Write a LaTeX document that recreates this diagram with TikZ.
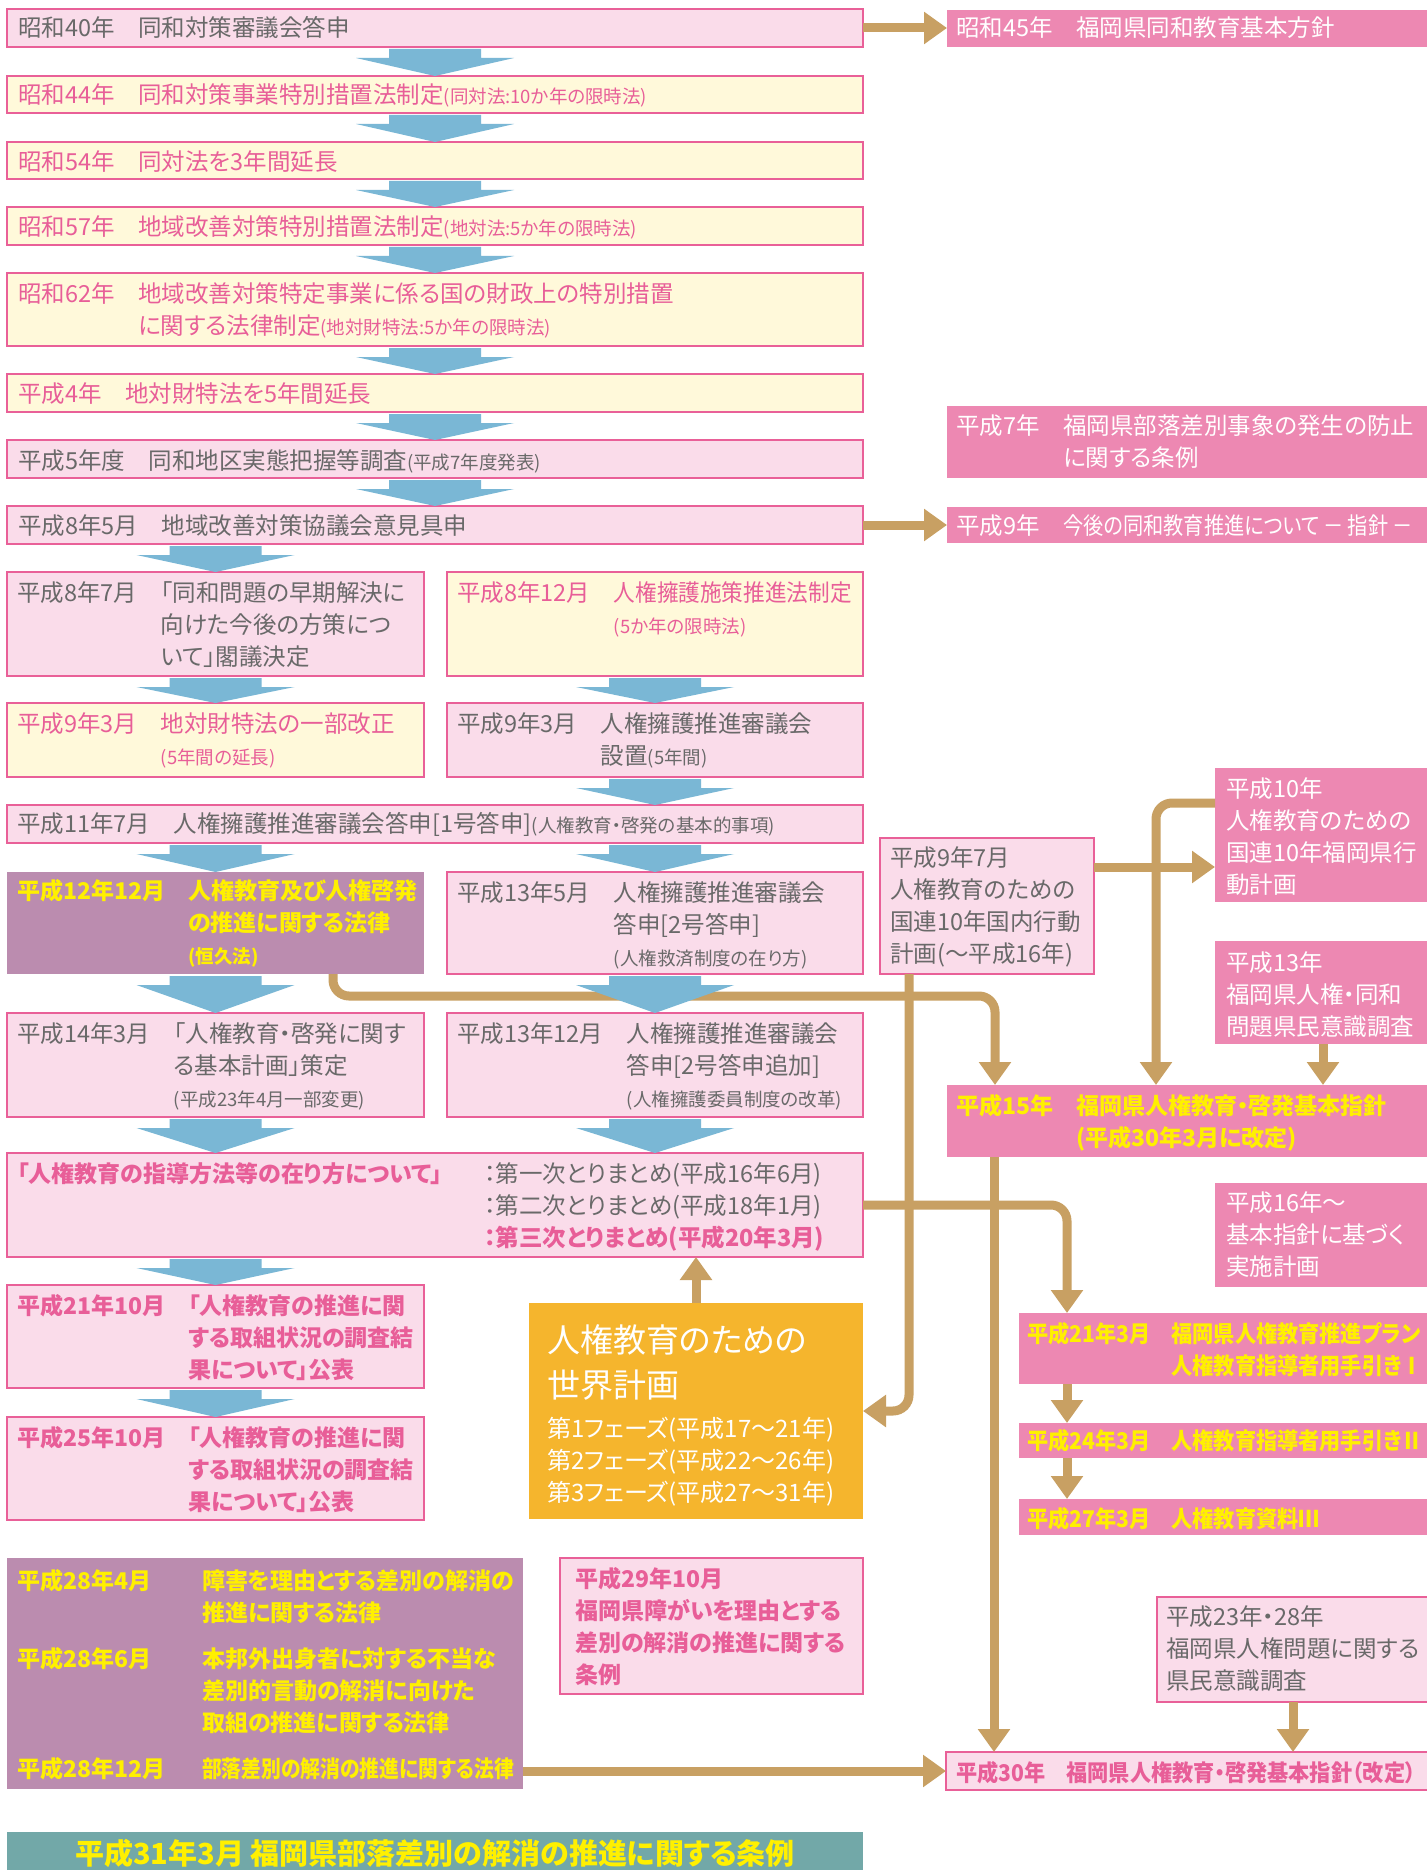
\documentclass[tikz,border=0pt]{standalone}
\usepackage{fontspec}
\setmainfont[RawFeature=+palt]{Noto Sans CJK JP}
\newfontfamily\narrowjp[FakeStretch=0.92, RawFeature=+palt]{Noto Sans CJK JP}
\newfontfamily\condjp[FakeStretch=0.86, RawFeature=+palt]{Noto Sans CJK JP}
\usetikzlibrary{arrows.meta,calc}
\definecolor{pinkbd}{RGB}{233,96,152}
\definecolor{pinklt}{RGB}{250,220,234}
\definecolor{yellowlt}{RGB}{255,249,218}
\definecolor{pinksolid}{RGB}{237,136,178}
\definecolor{purplebx}{RGB}{187,140,175}
\definecolor{goldbx}{RGB}{245,181,45}
\definecolor{tealbx}{RGB}{114,168,168}
\definecolor{bluearr}{RGB}{122,183,213}
\definecolor{tanc}{RGB}{200,160,99}
\definecolor{yellowtx}{RGB}{255,240,0}
\definecolor{graytx}{RGB}{105,105,105}
\definecolor{pinktx}{RGB}{232,94,152}
\newcommand\sm[1]{{\fontsize{18.5}{32}\selectfont #1}}
\newcommand\twocol[1]{\begin{tabular}[t]{@{}l@{　}l@{}}#1\end{tabular}}
\newcommand\onecol[1]{\begin{tabular}[t]{@{}l@{}}#1\end{tabular}}
\newcommand\blk[3]{\fill[bluearr] ($(#1.south -| #3)+(-46,2)$) -- ++(92,0) -- ++(0,9) -- ++(33,0) -- (#2.north -| #3) -- ($(#1.south -| #3)+(-79,11)$) -- ++(33,0) -- cycle;}

\begin{document}
\begin{tikzpicture}[x=1pt, y=-1pt,
 box/.style={inner sep=0pt, outer sep=0pt, anchor=north west},
 pk/.style={box, fill=pinklt, draw=pinkbd, line width=2.6pt},
 yl/.style={box, fill=yellowlt, draw=pinkbd, line width=2.6pt},
 sp/.style={box, fill=pinksolid},
 pu/.style={box, fill=purplebx},
 txt/.style={anchor=base west, inner sep=0pt, text=graytx, font=\fontsize{23.5}{32}\selectfont},
 ptxt/.style={txt, text=pinktx},
 pbtxt/.style={txt, text=pinktx, font=\fontsize{23}{32}\selectfont\bfseries},
 wtxt/.style={txt, text=white},
 ytxt/.style={txt, text=yellowtx, font=\fontsize{23}{32}\selectfont\bfseries},
 tanarr/.style={draw=tanc, line width=9pt, -{Triangle[length=23pt,width=31pt]}}]
\path[use as bounding box, fill=white] (0,0) rectangle (1426,1870);

\node[pk, minimum width=856, minimum height=38] (a1) at (7,9) {};
\node[yl, minimum width=856, minimum height=37] (a2) at (7,76) {};
\node[yl, minimum width=856, minimum height=37] (a3) at (7,142) {};
\node[yl, minimum width=856, minimum height=38] (a4) at (7,207) {};
\node[yl, minimum width=856, minimum height=73] (a5) at (7,273) {};
\node[yl, minimum width=856, minimum height=38] (a6) at (7,374) {};
\node[pk, minimum width=856, minimum height=38] (a7) at (7,440) {};
\node[pk, minimum width=856, minimum height=38] (a8) at (7,506) {};
\node[pk, minimum width=417, minimum height=104] (a9) at (7,572) {};
\node[yl, minimum width=416, minimum height=104] (b9) at (447,572) {};
\node[yl, minimum width=417, minimum height=74] (a10) at (7,703) {};
\node[pk, minimum width=416, minimum height=74] (b10) at (447,703) {};
\node[pk, minimum width=856, minimum height=38] (a11) at (7,805) {};
\node[pu, minimum width=417, minimum height=102] (a12) at (7,872) {};
\node[pk, minimum width=416, minimum height=102] (b12) at (447,872) {};
\node[pk, minimum width=417, minimum height=104] (a13) at (7,1013) {};
\node[pk, minimum width=416, minimum height=104] (b13) at (447,1013) {};
\node[pk, minimum width=856, minimum height=104] (a14) at (7,1153) {};
\node[pk, minimum width=417, minimum height=103] (a15) at (7,1285) {};
\node[pk, minimum width=417, minimum height=103] (a16) at (7,1417) {};
\node[box, fill=goldbx, minimum width=334, minimum height=216] (gold) at (529,1303) {};
\node[pu, minimum width=516, minimum height=231] (p28) at (7,1558) {};
\node[pk, minimum width=303, minimum height=136] (p29) at (560,1558) {};
\node[box, fill=tealbx, minimum width=856, minimum height=60] (teal) at (7,1832) {};
\node[pk, minimum width=214, minimum height=136] (m1) at (880,838) {};
\node[sp, minimum width=493, minimum height=37] (r1) at (947,10) {};
\node[sp, minimum width=493, minimum height=72] (r2) at (947,406) {};
\node[sp, minimum width=493, minimum height=36] (r3) at (947,507) {};
\node[sp, minimum width=225, minimum height=134] (r4) at (1215,768) {};
\node[sp, minimum width=225, minimum height=103] (r5) at (1215,941) {};
\node[sp, minimum width=493, minimum height=72] (r6) at (947,1085) {};
\node[sp, minimum width=225, minimum height=104] (r7) at (1215,1183) {};
\node[sp, minimum width=421, minimum height=71] (r8) at (1019,1313) {};
\node[sp, minimum width=421, minimum height=35] (r9) at (1019,1423) {};
\node[sp, minimum width=421, minimum height=36] (r10) at (1019,1499) {};
\node[pk, minimum width=283, minimum height=105] (h23) at (1157,1597) {};
\node[pk, minimum width=494, minimum height=38] (r30) at (946,1752) {};

\draw[tanarr] (a1.east) -- (a1.east -| r1.west);
\draw[tanarr] (a8.east) -- (a8.east -| r3.west);
\coordinate (c3) at ([yshift=-29pt]m1.north east);
\draw[tanarr] (c3) -- (c3 -| r4.west);
\draw[tanarr, rounded corners=16pt] ([yshift=-35pt]r4.north west) -| ([xshift=209pt]r6.north west);
\coordinate (c5) at ([xshift=108pt]r5.south west);
\draw[tanarr] (c5) -- (c5 |- r6.north);
\draw[tanarr, rounded corners=16pt] ([xshift=326pt]a12.south west) -- ++(0,22) -| ([xshift=48pt]r6.north west);
\draw[tanarr, rounded corners=16pt] ([xshift=29pt]m1.south west) |- (gold.east);
\coordinate (c8) at ([xshift=47pt]r6.south west);
\draw[tanarr] (c8) -- (c8 |- r30.north);
\draw[tanarr, rounded corners=16pt] (a14.east) -| ([xshift=48pt]r8.north west);
\coordinate (c10) at ([xshift=48pt]r8.south west);
\draw[tanarr] (c10) -- (c10 |- r9.north);
\coordinate (c11) at ([xshift=48pt]r9.south west);
\draw[tanarr] (c11) -- (c11 |- r10.north);
\draw[tanarr] (gold.north) -- (gold.north |- a14.south);
\coordinate (c13) at ([xshift=136pt]h23.south west);
\draw[tanarr] (c13) -- (c13 |- r30.north);
\draw[tanarr] (p28.east |- r30.west) -- (r30.west);

\blk{a1}{a2}{a2}
\blk{a2}{a3}{a3}
\blk{a3}{a4}{a4}
\blk{a4}{a5}{a5}
\blk{a5}{a6}{a6}
\blk{a6}{a7}{a7}
\blk{a7}{a8}{a8}
\blk{a8}{a9}{a9}
\blk{a9}{a10}{a10}
\blk{b9}{b10}{b10}
\blk{b10}{a11}{b10}
\blk{a11}{a12}{a12}
\blk{a11}{b12}{b12}
\blk{a12}{a13}{a13}
\blk{b12}{b13}{b13}
\blk{a13}{a14}{a13}
\blk{b13}{a14}{b13}
\blk{a14}{a15}{a15}
\blk{a15}{a16}{a16}

\node[txt] (a1t) at (18,37) {昭和40年　同和対策審議会答申};
\node[ptxt] (a2t) at (18,104) {昭和44年　同和対策事業特別措置法制定\sm{(同対法:10か年の限時法)}};
\node[ptxt] (a3t) at (18,171) {昭和54年　同対法を3年間延長};
\node[ptxt] (a4t) at (18,236) {昭和57年　地域改善対策特別措置法制定\sm{(地対法:5か年の限時法)}};
\node[ptxt] (a5t) at (18,302) {\twocol{昭和62年 & 地域改善対策特定事業に係る国の財政上の特別措置\\ & に関する法律制定\sm{(地対財特法:5か年の限時法)}}};
\node[ptxt] (a6t) at (18,402) {平成4年　地対財特法を5年間延長};
\node[txt] (a7t) at (18,469) {平成5年度　同和地区実態把握等調査\sm{(平成7年度発表)}};
\node[txt] (a8t) at (18,534) {平成8年5月　地域改善対策協議会意見具申};
\node[txt] (a9t) at (17,601) {\twocol{平成8年7月 & 「同和問題の早期解決に\\ & 向けた今後の方策につ\\ & いて」閣議決定}};
\node[ptxt] (b9t) at (457,601) {\twocol{平成8年12月 & {\narrowjp 人権擁護施策推進法制定}\\ & \sm{(5か年の限時法)}}};
\node[ptxt] (a10t) at (17,732) {\twocol{平成9年3月 & 地対財特法の一部改正\\ & \sm{(5年間の延長)}}};
\node[txt] (b10t) at (457,732) {\twocol{平成9年3月 & 人権擁護推進審議会\\ & 設置\sm{(5年間)}}};
\node[txt] (a11t) at (17,832) {平成11年7月　人権擁護推進審議会答申[1号答申]\sm{(人権教育・啓発の基本的事項)}};
\node[ytxt] (a12t) at (17,899) {\twocol{平成12年12月 & 人権教育及び人権啓発\\ & の推進に関する法律\\ & \sm{(恒久法)}}};
\node[txt] (b12t) at (457,901) {\twocol{平成13年5月 & 人権擁護推進審議会\\ & 答申[2号答申]\\ & \sm{(人権救済制度の在り方)}}};
\node[txt] (a13t) at (17,1042) {\twocol{平成14年3月 & 「人権教育・啓発に関す\\ & る基本計画」策定\\ & \sm{(平成23年4月一部変更)}}};
\node[txt] (b13t) at (457,1042) {\twocol{平成13年12月 & 人権擁護推進審議会\\ & 答申[2号答申追加]\\ & \sm{(人権擁護委員制度の改革)}}};
\node[pbtxt] (a14t) at (17,1182) {「人権教育の指導方法等の在り方について」};
\node[txt] (a14s) at (484,1182) {\onecol{：第一次とりまとめ(平成16年6月)\\ ：第二次とりまとめ(平成18年1月)\\ {\color{pinktx}\bfseries ：第三次とりまとめ(平成20年3月)}}};
\node[pbtxt] (a15t) at (17,1314) {\twocol{平成21年10月 & 「人権教育の推進に関\\ & する取組状況の調査結\\ & 果について」公表}};
\node[pbtxt] (a16t) at (17,1446) {\twocol{平成25年10月 & 「人権教育の推進に関\\ & する取組状況の調査結\\ & 果について」公表}};
\node[wtxt, font=\fontsize{33}{45}\selectfont] (goldt) at (547,1352) {\onecol{人権教育のための\\ 世界計画}};
\node[wtxt, font=\fontsize{24}{32}\selectfont] (goldp) at (547,1437) {\onecol{第1フェーズ(平成17〜21年)\\ 第2フェーズ(平成22〜26年)\\ 第3フェーズ(平成27〜31年)}};
\node[ytxt] (p28t) at (17,1589) {\begin{tabular}[t]{@{}p{185pt}@{}l@{}}平成28年4月 & 障害を理由とする差別の解消の\\ & 推進に関する法律\\[14pt] 平成28年6月 & 本邦外出身者に対する不当な\\ & 差別的言動の解消に向けた\\ & 取組の推進に関する法律\\[14pt] 平成28年12月 & {\condjp 部落差別の解消の推進に関する法律}\end{tabular}};
\node[pbtxt] (p29t) at (575,1587) {\onecol{平成29年10月\\ 福岡県障がいを理由とする\\ 差別の解消の推進に関する\\ 条例}};
\node[txt, anchor=base, text=yellowtx, font=\fontsize{29}{32}\selectfont\bfseries] (tealt) at (435,1864) {平成31年3月 福岡県部落差別の解消の推進に関する条例};
\node[txt] (m1t) at (890,866) {\onecol{平成9年7月\\ 人権教育のための\\ 国連10年国内行動\\ 計画(〜平成16年)}};
\node[wtxt] (r1t) at (956,37) {昭和45年　福岡県同和教育基本方針};
\node[wtxt] (r2t) at (956,434) {\twocol{平成7年 & 福岡県部落差別事象の発生の防止\\ & に関する条例}};
\node[wtxt] (r3t) at (956,534) {平成9年　{\condjp 今後の同和教育推進について\,－\,指針\,－}};
\node[wtxt] (r4t) at (1226,797) {\onecol{平成10年\\ 人権教育のための\\ 国連10年福岡県行\\ 動計画}};
\node[wtxt] (r5t) at (1226,971) {\onecol{平成13年\\ 福岡県人権・同和\\ 問題県民意識調査}};
\node[ytxt] (r6t) at (956,1114) {\twocol{平成15年 & 福岡県人権教育・啓発基本指針\\ & (平成30年3月に改定)}};
\node[wtxt] (r7t) at (1226,1211) {\onecol{平成16年〜\\ 基本指針に基づく\\ 実施計画}};
\node[ytxt] (r8t) at (1027,1342) {\narrowjp\twocol{平成21年3月 & 福岡県人権教育推進プラン\\ & 人権教育指導者用手引きⅠ}};
\node[ytxt] (r9t) at (1027,1449) {\narrowjp 平成24年3月　人権教育指導者用手引きⅡ};
\node[ytxt] (r10t) at (1027,1527) {\narrowjp 平成27年3月　人権教育資料Ⅲ};
\node[txt] (h23t) at (1166,1625) {\onecol{平成23年・28年\\ 福岡県人権問題に関する\\ 県民意識調査}};
\node[pbtxt] (r30t) at (956,1781) {\narrowjp 平成30年　福岡県人権教育・啓発基本指針（改定）};
\end{tikzpicture}
\end{document}
